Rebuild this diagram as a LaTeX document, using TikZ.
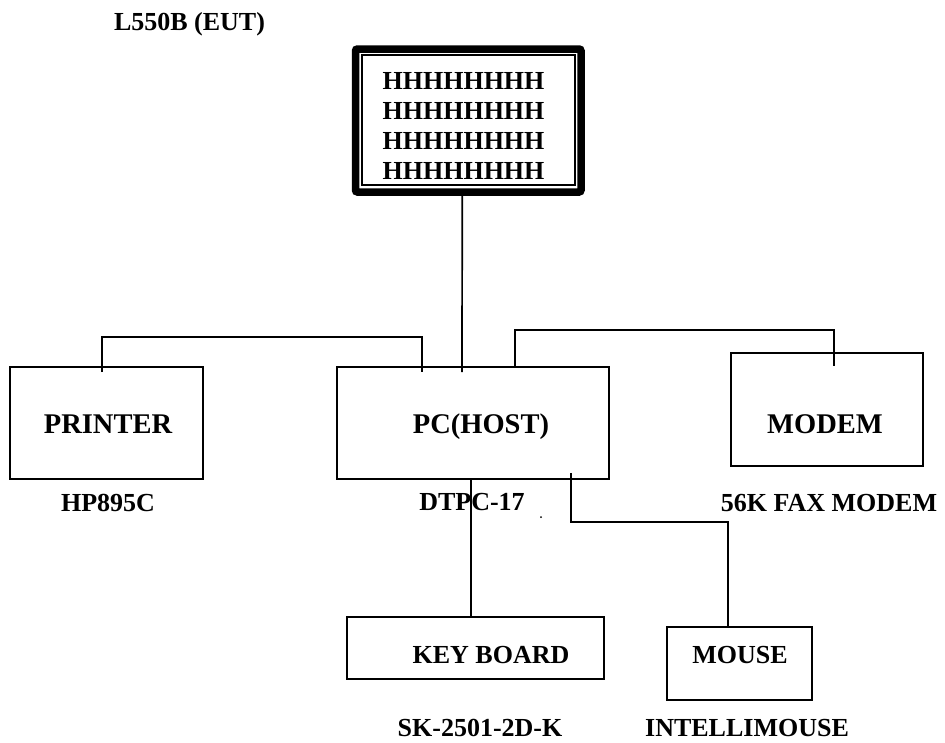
\documentclass[tikz,border=0pt]{standalone}
\usepackage{fontspec}
\setmainfont{Liberation Serif}
\usepackage{tikz}
\usetikzlibrary{positioning}

\tikzset{
  box/.style={draw, line width=1.6pt, inner sep=0pt},
  lbl/.style={font=\bfseries\fontsize{28.5}{30}\selectfont, anchor=base, inner sep=0pt},
  sublbl/.style={font=\bfseries\fontsize{26}{30}\selectfont, anchor=base, inner sep=0pt},
  wire/.style={line width=1.7pt},
}

\begin{document}
\begin{tikzpicture}[x=1pt,y=-1pt]
        % Sfondo
        \path[fill=white, use as bounding box] (0,0) rectangle (945,742);
        % Monitor (EUT)
        \node[draw, line width=7.5pt, rounded corners=2pt, minimum width=225.5pt, minimum height=143pt, inner sep=0pt] (monitor) at (468.25,120.5) {};
        \node[draw, line width=1.5pt, minimum width=213pt, minimum height=130pt, inner sep=0pt] (screen) at (468.5,120) {};
        \node[sublbl] (h1) at (463.5,89) {HHHHHHHH};
        \node[sublbl] (h2) at (463.5,119) {HHHHHHHH};
        \node[sublbl] (h3) at (463.5,149) {HHHHHHHH};
        \node[sublbl] (h4) at (463.5,179) {HHHHHHHH};
        \node[sublbl] (eut) at (189.5,30) {L550B (EUT)};
        % Scatole
        \node[box, minimum width=193pt, minimum height=112pt] (printer) at (106.5,423) {};
        \node[box, minimum width=272pt, minimum height=112pt] (pc) at (473,423) {};
        \node[box, minimum width=192pt, minimum height=113pt] (modem) at (827,409.5) {};
        \node[box, minimum width=257pt, minimum height=62pt] (keyboard) at (475.5,648) {};
        \node[box, minimum width=145pt, minimum height=73pt] (mouse) at (739.5,663.5) {};
        % Etichette
        \node[lbl] (printerlbl) at (108,433) {PRINTER};
        \node[lbl] (pclbl) at (481,433) {PC(HOST)};
        \node[lbl] (modemlbl) at (825,433) {MODEM};
        \node[sublbl] (keyboardlbl) at (491,663) {KEY BOARD};
        \node[sublbl] (mouselbl) at (740,663) {MOUSE};
        % Modelli
        \node[sublbl] (printercap) at (108,511) {HP895C};
        \node[sublbl] (pccap) at (472,510) {DTPC-17};
        \node[sublbl] (modemcap) at (829,511) {56K FAX MODEM};
        \node[sublbl] (keyboardcap) at (480,736) {SK-2501-2D-K};
        \node[sublbl] (mousecap) at (747,736) {INTELLIMOUSE};
        % Cavi
        \draw[wire] ([xshift=-6pt]monitor.south) -- ([xshift=-11pt,yshift=-6pt]pc.north);
        \draw[wire] ([xshift=-4.5pt,yshift=-6pt]printer.north) -- ++(0,-35) -| ([xshift=-51pt,yshift=-6pt]pc.north);
        \draw[wire] ([xshift=42pt]pc.north) -- ++(0,-36) -| ([xshift=7pt,yshift=-14pt]modem.north);
        \draw[wire] ([xshift=98pt,yshift=7pt]pc.south) -- ++(0,49) -| ([xshift=-11.5pt]mouse.north);
        \draw[wire] ([xshift=-2pt]pc.south) -- ([xshift=-4.5pt]keyboard.north);
        \fill (541,517) circle (1pt);
    \end{tikzpicture}
\end{document}
